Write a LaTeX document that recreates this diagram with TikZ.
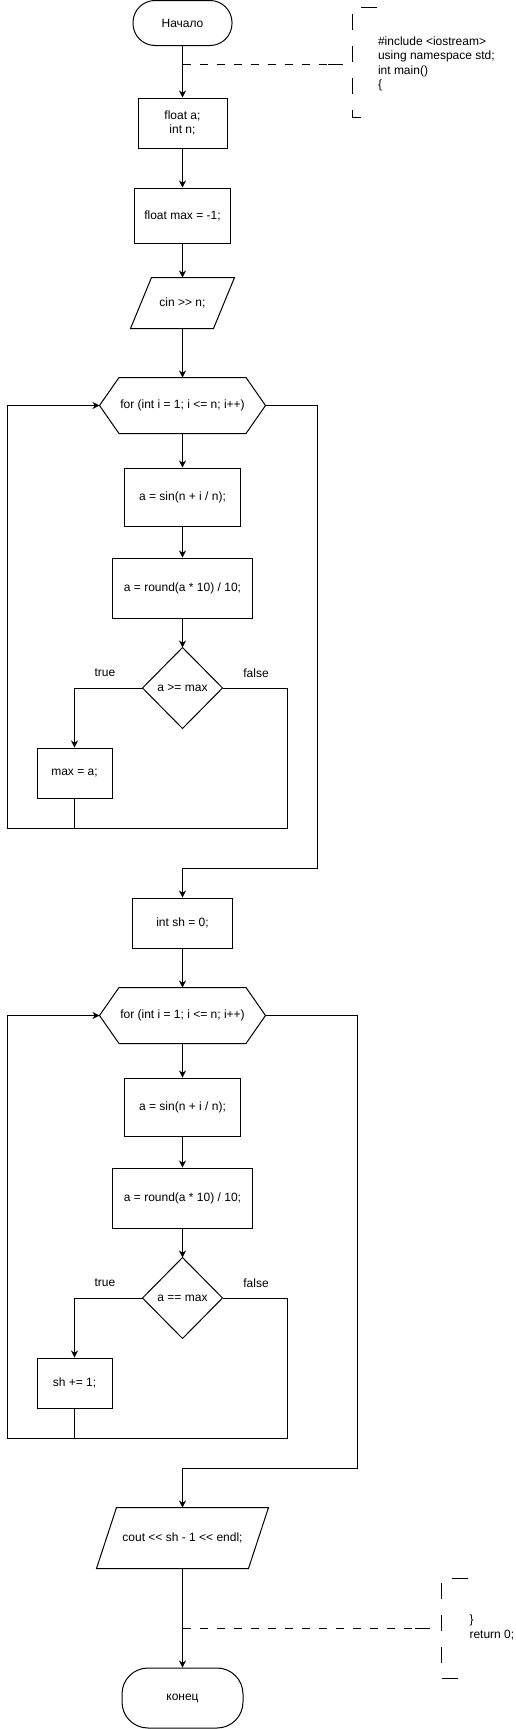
\documentclass[tikz,border=0pt]{standalone}
\usepackage{fontspec}
\setmainfont{Liberation Sans}[Ligatures=TeXOff]
\usetikzlibrary{arrows.meta,calc}
\tikzset{
  proc/.style={draw, rectangle, inner sep=0pt, align=center},
  term/.style={draw, rectangle, inner sep=0pt, align=center},
  holder/.style={inner sep=0pt, align=center},
  lbl/.style={inner sep=0pt},
  codetext/.style={inner sep=0pt, align=left, anchor=west},
  flow/.style={-{Stealth[length=7pt,width=7pt,inset=2.2pt]}},
  notelink/.style={dash pattern=on 8pt off 9pt},
  bracket/.style={dash pattern=on 16pt off 16pt}
}
\newcommand{\paraout}[2]{\draw ($(#1.north west)+(#2,0)$) -- (#1.north east) -- ($(#1.south east)+(-#2,0)$) -- (#1.south west) -- cycle;}
\newcommand{\hexout}[1]{\draw (#1.west) -- ($(#1.north west)+(19.5,0)$) -- ($(#1.north east)+(-19.5,0)$) -- (#1.east) -- ($(#1.south east)+(-19.5,0)$) -- ($(#1.south west)+(19.5,0)$) -- cycle;}
\newcommand{\diaout}[1]{\draw (#1.north) -- (#1.east) -- (#1.south) -- (#1.west) -- cycle;}
\begin{document}
\begin{tikzpicture}[x=1pt, y=-1pt, line width=1pt, font=\fontsize{12}{14.4}\selectfont]
\useasboundingbox (0,0) rectangle (515,1729);

% ---------- nodes ----------
\node[term, rounded corners=22pt, minimum width=99pt, minimum height=45pt] (start) at (182.5,23) {Начало};
\node[proc, minimum width=89pt, minimum height=50pt] (decl) at (182.5,123) {float a;\\int n;};
\node[proc, minimum width=96pt, minimum height=55pt] (maxinit) at (182.5,215.5) {float max = -1;};
\node[holder, minimum width=103pt, minimum height=50pt] (cin) at (182.5,303) {cin >> n;};
\paraout{cin}{21}

\node[holder, minimum width=165pt, minimum height=55pt] (hex1) at (182.5,405.5) {for (int i = 1; i <= n; i++)};
\hexout{hex1}
\node[proc, minimum width=116pt, minimum height=58pt] (sin1) at (182.5,497) {a = sin(n + i / n);};
\node[proc, minimum width=140pt, minimum height=60pt] (round1) at (182.5,588) {a = round(a * 10) / 10;};
\node[holder, minimum width=79pt, minimum height=80pt] (dia1) at (182.5,688) {a >= max};
\diaout{dia1}
\node[proc, minimum width=75pt, minimum height=50pt] (maxa) at (74.5,773) {max = a;};
\node[lbl] (true1) at (105,673) {true};
\node[lbl] (false1) at (256,673) {false};

\node[proc, minimum width=100pt, minimum height=50pt] (sh0) at (182.5,923) {int sh = 0;};

\node[holder, minimum width=165pt, minimum height=55pt] (hex2) at (182.5,1015.5) {for (int i = 1; i <= n; i++)};
\hexout{hex2}
\node[proc, minimum width=116pt, minimum height=58pt] (sin2) at (182.5,1107) {a = sin(n + i / n);};
\node[proc, minimum width=140pt, minimum height=60pt] (round2) at (182.5,1198) {a = round(a * 10) / 10;};
\node[holder, minimum width=79pt, minimum height=80pt] (dia2) at (182.5,1298) {a == max};
\diaout{dia2}
\node[proc, minimum width=75pt, minimum height=50pt] (sh1) at (74.5,1383) {sh += 1;};
\node[lbl] (true2) at (105,1283) {true};
\node[lbl] (false2) at (256,1283) {false};

\node[holder, minimum width=171pt, minimum height=60pt] (cout) at (182.5,1538) {cout << sh - 1 << endl;};
\paraout{cout}{20}
\node[term, rounded corners=26pt, minimum width=121pt, minimum height=60pt] (stop) at (182.5,1698) {конец};

% ---------- comments ----------
\node[codetext] (code1) at (377.5,64) {\#include <iostream>\\using namespace std;\\int main()\\\{};
\draw[bracket] (377,7) -- (352,7) -- (352,117) -- (377,117);
\node[codetext] (code2) at (469,1627.5) {\}\\return 0;};
\draw[bracket] (468,1578) -- (441,1578) -- (441,1678) -- (468,1678);

% ---------- coordinates ----------
\coordinate (n1a) at (182.5,64);
\coordinate (n1b) at (328,64);
\coordinate (n1c) at (343,64);
\coordinate (r1) at (287,828);
\coordinate (l1) at (7,828);
\coordinate (e1) at (317,868);
\coordinate (r2) at (287,1438);
\coordinate (l2) at (7,1438);
\coordinate (e2) at (357.5,1468);
\coordinate (n2a) at (182.5,1628);
\coordinate (n2b) at (415,1628);
\coordinate (n2c) at (430,1628);

% ---------- connectors ----------
\draw[flow] (start) -- (decl);
\draw[flow] (decl) -- (maxinit);
\draw[flow] (maxinit) -- (cin.north);
\draw[flow] (cin.south) -- (hex1.north);
\draw[flow] (hex1.south) -- (sin1);
\draw[flow] (sin1) -- (round1);
\draw[flow] (round1) -- (dia1.north);
\draw[flow] (dia1.west) -| (maxa.north);
\draw (maxa.south) -- (maxa.south |- r1);
\draw[flow] (dia1.east) -| (r1) -- (l1) |- (hex1.west);
\draw[flow] (hex1.east) -| (e1) -| (sh0.north);
\draw[flow] (sh0) -- (hex2.north);
\draw[flow] (hex2.south) -- (sin2);
\draw[flow] (sin2) -- (round2);
\draw[flow] (round2) -- (dia2.north);
\draw[flow] (dia2.west) -| (sh1.north);
\draw (sh1.south) -- (sh1.south |- r2);
\draw[flow] (dia2.east) -| (r2) -- (l2) |- (hex2.west);
\draw[flow] (hex2.east) -| (e2) -| (cout.north);
\draw[flow] (cout.south) -- (stop.north);

\draw[notelink] (n1a) -- (n1b);
\draw (n1b) -- (n1c);
\draw[notelink] (n2a) -- (n2b);
\draw (n2b) -- (n2c);
\end{tikzpicture}
\end{document}
